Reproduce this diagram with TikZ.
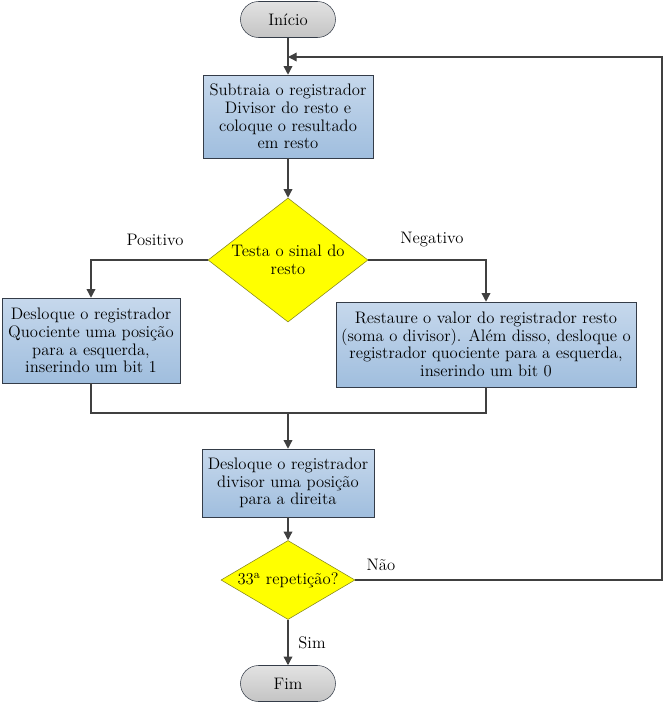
\documentclass[tikz,border=0pt]{standalone}
\usepackage{amsmath}
\usetikzlibrary{arrows.meta,positioning,shapes.geometric,calc}
\definecolor{caixatopo}{RGB}{198,216,236}
\definecolor{caixabase}{RGB}{160,190,222}
\definecolor{caixaborda}{RGB}{52,60,72}
\definecolor{losango}{RGB}{255,255,0}
\definecolor{losangoborda}{RGB}{130,130,30}
\definecolor{cinzatopo}{RGB}{226,226,226}
\definecolor{cinzabase}{RGB}{196,196,196}
\definecolor{linha}{RGB}{64,64,64}

\begin{document}
\begin{tikzpicture}[x=0.75pt, y=-0.75pt, font=\fontsize{12.5}{13.3}\selectfont]
        \tikzset{
            terminal/.style={
                    draw=caixaborda,
                    top color=cinzatopo,
                    bottom color=cinzabase,
                    rounded corners=13.5pt,
                    minimum width=71.25pt,
                    minimum height=27pt,
                    inner sep=0pt
                },
            caixa/.style={
                    draw=caixaborda,
                    top color=caixatopo,
                    bottom color=caixabase,
                    align=center,
                    inner sep=0pt
                },
            decisao/.style={
                    diamond,
                    draw=losangoborda,
                    fill=losango,
                    align=center,
                    inner sep=0pt
                },
            seta/.style={
                    draw=linha,
                    line width=1pt,
                    -{Triangle[length=6.5pt,width=6.5pt]}
                },
            liga/.style={
                    draw=linha,
                    line width=1pt
                }
        }
        \useasboundingbox (0,0) rectangle (665,704);
        \node[terminal] (inicio) at (288,19.5) {Início};
        \node[caixa, minimum width=127.5pt, minimum height=62.25pt] (sub) at (288,116.5)
            {Subtraia o registrador\\Divisor do resto e\\coloque o resultado\\em resto};
        \node[decisao, aspect=1.3, minimum width=120pt, minimum height=93pt] (teste) at (288,260)
            {Testa o sinal do\\resto};
        \node[caixa, minimum width=133.5pt, minimum height=63.75pt] (esq) at (91,340.5)
            {Desloque o registrador\\Quociente uma posição\\para a esquerda,\\inserindo um bit 1};
        \node[caixa, minimum width=225pt, minimum height=63.75pt] (dir) at (486,344.5)
            {Restaure o valor do registrador resto\\(soma o divisor). Além disso, desloque o\\registrador quociente para a esquerda,\\inserindo um bit 0};
        \node[caixa, minimum width=129pt, minimum height=51pt] (desl) at (288,483)
            {Desloque o registrador\\divisor uma posição\\para a direita};
        \node[decisao, aspect=1.8, minimum width=100.5pt, minimum height=59.25pt] (rep) at (288,580)
            {33\textsuperscript{a} repetição?};
        \node[terminal] (fim) at (288,683.5) {Fim};
        \coordinate (juncao) at (288,413);
        \coordinate (canto) at (662,57);
        \coordinate (retorno) at (288,57);

        \draw[seta] (inicio) -- (sub);
        \draw[seta] (sub) -- (teste);
        \draw[seta] (teste.west) -| (esq);
        \draw[seta] (teste.east) -| (dir);
        \draw[liga] (esq.south) |- (juncao) -| (dir.south);
        \draw[seta] (juncao) -- (desl);
        \draw[seta] (desl) -- (rep);
        \draw[seta] (rep) -- (fim);
        \draw[seta] (rep.east) -| (canto) -- (retorno);

        \node (positivo) at (155,240) {Positivo};
        \node (negativo) at (432,240) {Negativo};
        \node (nao) at (381,565) {Não};
        \node (sim) at (312,643) {Sim};
    \end{tikzpicture}
\end{document}
